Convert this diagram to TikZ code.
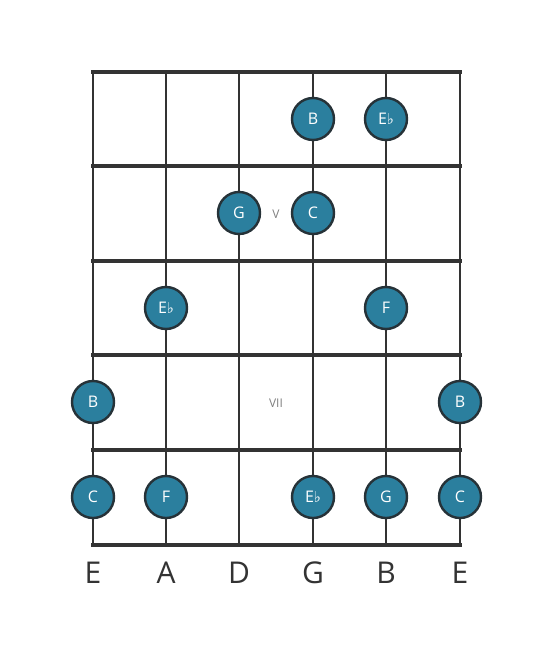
\documentclass[tikz,border=0pt]{standalone}
\usepackage{fontspec}
\setmainfont{Open Sans}
\newfontfamily\symfont{DejaVu Sans}
\newcommand{\flt}{{\symfont\fontsize{15}{15}\selectfont ♭}}
\definecolor{ink}{HTML}{333333}
\definecolor{dotfill}{HTML}{2B7F9E}
\definecolor{dotline}{HTML}{263238}
\tikzset{
  fretline/.style={draw=ink, line width=4.8pt},
  stringline/.style={draw=ink, line width=2.8pt},
  notedot/.style={circle, minimum size=42pt, inner sep=0pt, fill=dotfill, draw=dotline, line width=2.4pt, text=white, font=\fontsize{16}{16}\selectfont},
  posmark/.style={text=gray, font=\fontsize{12}{12}\selectfont},
  strlabel/.style={text=ink, font=\fontsize{30}{30}\selectfont}
}
\begin{document}
\begin{tikzpicture}[x=1pt,y=-1pt]
\useasboundingbox (0,0) rectangle (553,656);
% strings
\foreach \x/\n in {93/s1,166/s2,239/s3,313/s4,386/s5,460/s6}{
  \coordinate (\n t) at (\x,72);
  \coordinate (\n b) at (\x,545);
  \draw[stringline] (\n t) -- (\n b);
}
% frets
\foreach \y/\n in {72/f0,166/f1,261/f2,355/f3,450/f4,545/f5}{
  \coordinate (\n l) at (93,\y);
  \coordinate (\n r) at (460,\y);
  \draw[fretline, line cap=rect] (\n l) -- (\n r);
}
% markers
\node[posmark] (mV) at (276,214) {V};
\node[posmark] (mVII) at (276,403) {VII};
% notes
\node[notedot] (n1) at (313,119) {B};
\node[notedot] (n2) at (386,119) {E\flt};
\node[notedot] (n3) at (239,213) {G};
\node[notedot] (n4) at (313,213) {C};
\node[notedot] (n5) at (166,308) {E\flt};
\node[notedot] (n6) at (386,308) {F};
\node[notedot] (n7) at (93,402) {B};
\node[notedot] (n8) at (460,402) {B};
\node[notedot] (n9) at (93,497) {C};
\node[notedot] (n10) at (166,497) {F};
\node[notedot] (n11) at (313,497) {E\flt};
\node[notedot] (n12) at (386,497) {G};
\node[notedot] (n13) at (460,497) {C};
% string names
\foreach \x/\t/\n in {93/E/l1,166/A/l2,239/D/l3,313/G/l4,386/B/l5,460/E/l6}{
  \node[strlabel] (\n) at (\x,573) {\t};
}
\end{tikzpicture}
\end{document}
